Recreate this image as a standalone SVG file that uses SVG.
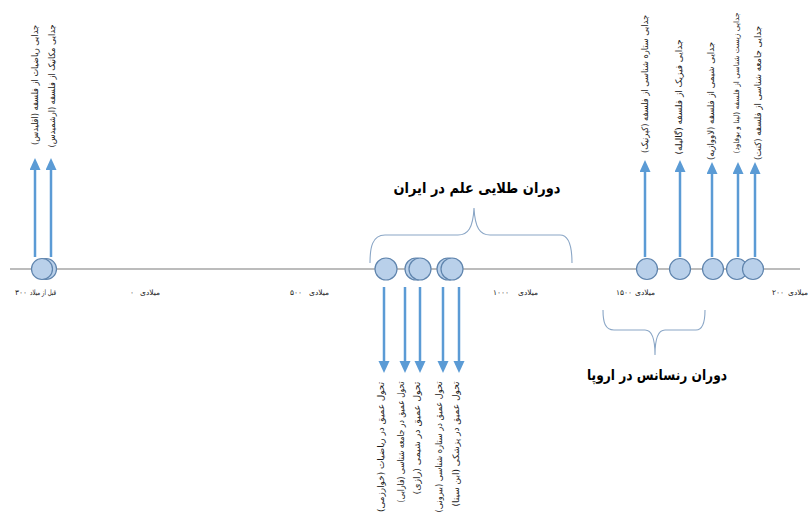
<svg xmlns="http://www.w3.org/2000/svg" width="812" height="518" viewBox="0 0 812 518">
<style>
.axis{stroke:#a6a6a6;stroke-width:1.5;fill:none}
.dot{fill:#b9d0ea;stroke:#5f84ad;stroke-width:1.2}
.arr{stroke:#5b9bd5;stroke-width:2.5;fill:none;marker-end:url(#ah)}
.brace{stroke:#8aa6c6;stroke-width:1.1;fill:none}
.vt{font-family:"DejaVu Sans",sans-serif;font-size:9px;fill:#1a1a1a}
.num{font-family:"DejaVu Sans",sans-serif;font-size:7.5px;fill:#1a1a1a;text-anchor:start}
.wd{font-family:"DejaVu Sans",sans-serif;font-size:7.5px;fill:#1a1a1a;text-anchor:end}
.title{font-family:"DejaVu Sans",sans-serif;font-size:15px;font-weight:bold;fill:#000;text-anchor:middle}
</style>
<defs>
<marker id="ah" markerUnits="userSpaceOnUse" markerWidth="12" markerHeight="12" refX="6" refY="5.5" orient="auto">
<path d="M0,0 L12,5.5 L0,11 z" fill="#5b9bd5"/>
</marker>
</defs>
<line class="axis" x1="10" y1="269" x2="800" y2="269"/>
<g id="connectors">
<line class="arr" x1="35" y1="257" x2="35" y2="164"/>
<line class="arr" x1="51" y1="257" x2="51" y2="164"/>
<line class="arr" x1="645" y1="257" x2="645" y2="166"/>
<line class="arr" x1="680" y1="257" x2="680" y2="166"/>
<line class="arr" x1="712" y1="257" x2="712" y2="168"/>
<line class="arr" x1="738" y1="257" x2="738" y2="168"/>
<line class="arr" x1="755" y1="257" x2="755" y2="168"/>
<line class="arr" x1="384" y1="287" x2="384" y2="367"/>
<line class="arr" x1="405" y1="287" x2="405" y2="367"/>
<line class="arr" x1="420" y1="287" x2="420" y2="367"/>
<line class="arr" x1="443" y1="287" x2="443" y2="367"/>
<line class="arr" x1="459" y1="287" x2="459" y2="367"/>
</g>
<g id="nodes-left">
<circle class="dot" cx="46" cy="269" r="10.5"/>
<circle class="dot" cx="42" cy="269" r="10.5"/>
</g>
<g id="nodes-iran">
<circle class="dot" cx="386" cy="269" r="11"/>
<circle class="dot" cx="416" cy="269" r="11"/>
<circle class="dot" cx="420" cy="269" r="11"/>
<circle class="dot" cx="448" cy="269" r="11"/>
<circle class="dot" cx="452" cy="269" r="11"/>
</g>
<g id="nodes-europe">
<circle class="dot" cx="647" cy="269" r="10.5"/>
<circle class="dot" cx="680" cy="269" r="10.5"/>
<circle class="dot" cx="713" cy="269" r="10.5"/>
<circle class="dot" cx="737" cy="269" r="10.5"/>
<circle class="dot" cx="753" cy="269" r="10.5"/>
</g>
<g id="axis-labels">
<text class="num" x="15" y="295">۳۰۰</text><text class="wd" x="56" y="295" textLength="26" lengthAdjust="spacingAndGlyphs">قبل از میلاد</text>
<text class="num" x="130" y="295">۰</text><text class="wd" x="160" y="295">میلادی</text>
<text class="num" x="290" y="295">۵۰۰</text><text class="wd" x="329" y="295">میلادی</text>
<text class="num" x="493" y="295">۱۰۰۰</text><text class="wd" x="538" y="295">میلادی</text>
<text class="num" x="616" y="295">۱۵۰۰</text><text class="wd" x="655" y="295">میلادی</text>
<text class="num" x="772" y="295">۲۰۰</text><text class="wd" x="808" y="295">میلادی</text>
</g>
<g id="top-texts">
<text class="vt" direction="rtl" text-anchor="middle" transform="translate(38,85) rotate(-90)" textLength="120" lengthAdjust="spacingAndGlyphs">جدایی ریاضیات از فلسفه (اقلیدس)</text>
<text class="vt" direction="rtl" text-anchor="middle" transform="translate(55,86) rotate(-90)" textLength="123" lengthAdjust="spacingAndGlyphs">جدایی مکانیک از فلسفه (ارشمیدس)</text>
<text class="vt" direction="rtl" text-anchor="middle" transform="translate(648,84) rotate(-90)" textLength="138" lengthAdjust="spacingAndGlyphs">جدایی ستاره شناسی از فلسفه (کپرنیک)</text>
<text class="vt" direction="rtl" text-anchor="middle" transform="translate(682,97) rotate(-90)" textLength="115" lengthAdjust="spacingAndGlyphs">جدایی فیزیک از فلسفه (گالیله)</text>
<text class="vt" direction="rtl" text-anchor="middle" transform="translate(714,101) rotate(-90)" textLength="118" lengthAdjust="spacingAndGlyphs">جدایی شیمی از فلسفه (لاووازیه)</text>
<text class="vt" direction="rtl" text-anchor="middle" transform="translate(739,83) rotate(-90)" textLength="141" lengthAdjust="spacingAndGlyphs" style="font-size:7.5px">جدایی زیست شناسی از فلسفه (لینا و بوفاود)</text>
<text class="vt" direction="rtl" text-anchor="middle" transform="translate(761,93) rotate(-90)" textLength="134" lengthAdjust="spacingAndGlyphs">جدایی جامعه شناسی از فلسفه (کنت)</text>
</g>
<g id="bottom-texts">
<text class="vt" direction="rtl" text-anchor="middle" transform="translate(384,447) rotate(-90)" textLength="130" lengthAdjust="spacingAndGlyphs">تحول عمیق در ریاضیات (خوارزمی)</text>
<text class="vt" direction="rtl" text-anchor="middle" transform="translate(404,442) rotate(-90)" textLength="121" lengthAdjust="spacingAndGlyphs">تحول عمیق در جامعه شناسی (فارابی)</text>
<text class="vt" direction="rtl" text-anchor="middle" transform="translate(420,438) rotate(-90)" textLength="113" lengthAdjust="spacingAndGlyphs">تحول عمیق در شیمی (رازی)</text>
<text class="vt" direction="rtl" text-anchor="middle" transform="translate(442,447) rotate(-90)" textLength="131" lengthAdjust="spacingAndGlyphs">تحول عمیق در ستاره شناسی (بیرونی)</text>
<text class="vt" direction="rtl" text-anchor="middle" transform="translate(459,444) rotate(-90)" textLength="125" lengthAdjust="spacingAndGlyphs">تحول عمیق در پزشکی (ابن سینا)</text>
</g>
<g id="iran-period">
<path class="brace" d="M370,263 C370,248 372,235 385,235 L458,235 C468,235 473,228 474,208 C475,228 480,235 490,235 L560,235 C570,235 572,248 572,263"/>
<text class="title" direction="rtl" x="477" y="193" textLength="167" lengthAdjust="spacingAndGlyphs">دوران طلایی علم در ایران</text>
</g>
<g id="europe-period">
<path class="brace" d="M603,310 C603,322 605,330 614,330 L645,330 C651,330 655,338 655,355 C655,338 659,330 665,330 L696,330 C703,330 705,322 705,310"/>
<text class="title" direction="rtl" x="657" y="380" textLength="140" lengthAdjust="spacingAndGlyphs">دوران رنسانس در اروپا</text>
</g>
</svg>
